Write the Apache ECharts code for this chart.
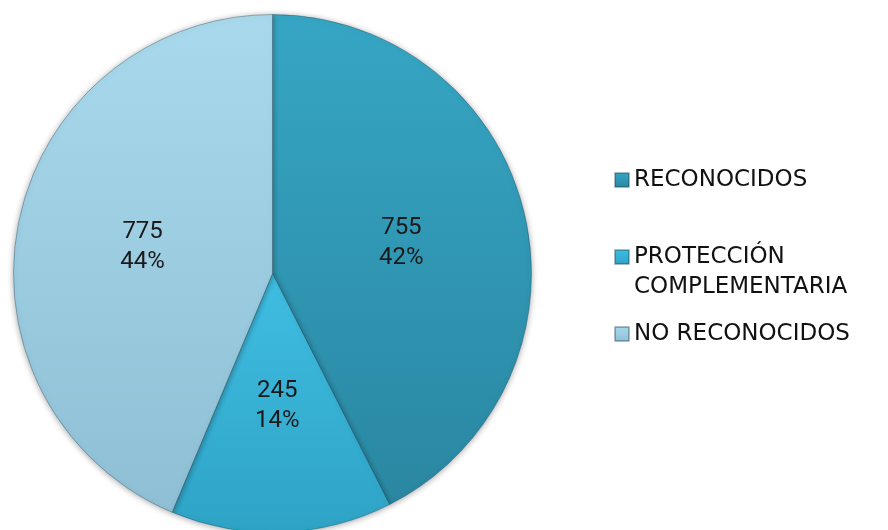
<!DOCTYPE html>
<html>
<head>
<meta charset="utf-8">
<script src="https://cdn.jsdelivr.net/npm/echarts@6/dist/echarts.min.js"></script>
<style>
html,body{margin:0;padding:0;background:#ffffff;}
#chart{width:888px;height:530px;}
</style>
</head>
<body>
<div id="chart"></div>
<script>
const categories = ['RECONOCIDOS', 'PROTECCIÓN COMPLEMENTARIA', 'NO RECONOCIDOS'];
const values = [755, 245, 775];
const legendLabels = ['RECONOCIDOS', '\nPROTECCIÓN\nCOMPLEMENTARIA', 'NO RECONOCIDOS'];

const sliceColors = [
  ['#36a6c4', '#2a87a2'],
  ['#3fbee2', '#2ea3c6'],
  ['#a9d9ec', '#8fbfd4']
];

function grad(c) {
  return new echarts.graphic.LinearGradient(0, 0, 0, 1, [
    {offset: 0, color: c[0]}, {offset: 1, color: c[1]}
  ]);
}

const chart = echarts.init(document.getElementById('chart'), null, {renderer: 'canvas'});
chart.setOption({
  backgroundColor: '#ffffff',
  animation: false,
  legend: {
    orient: 'vertical',
    left: 609,
    top: 160,
    itemWidth: 14,
    itemHeight: 14,
    itemGap: 17,
    icon: 'rect',
    formatter: function (name) {
      return legendLabels[categories.indexOf(name)];
    },
    textStyle: {
      fontFamily: 'DejaVu Sans',
      fontSize: 23,
      lineHeight: 30,
      color: '#111111'
    },
    data: categories
  },
  series: [{
    type: 'pie',
    center: [272.5, 273.5],
    radius: [0, 259],
    startAngle: 90,
    clockwise: true,
    percentPrecision: 0,
    avoidLabelOverlap: false,
    label: {
      show: true,
      position: 'inside',
      formatter: function (p) { return p.value + '\n' + p.percent + '%'; },
      fontFamily: 'Roboto',
      fontSize: 24,
      lineHeight: 30,
      color: '#1a1a1a'
    },
    labelLine: {show: false},
    itemStyle: {
      borderColor: 'rgba(20,60,80,0.35)',
      borderWidth: 1,
      shadowBlur: 6,
      shadowColor: 'rgba(0,0,0,0.35)',
      shadowOffsetY: 1
    },
    emphasis: {disabled: true},
    data: categories.map(function (c, i) {
      return {name: c, value: values[i], itemStyle: {color: grad(sliceColors[i])}};
    })
  }]
});
</script>
</body>
</html>
